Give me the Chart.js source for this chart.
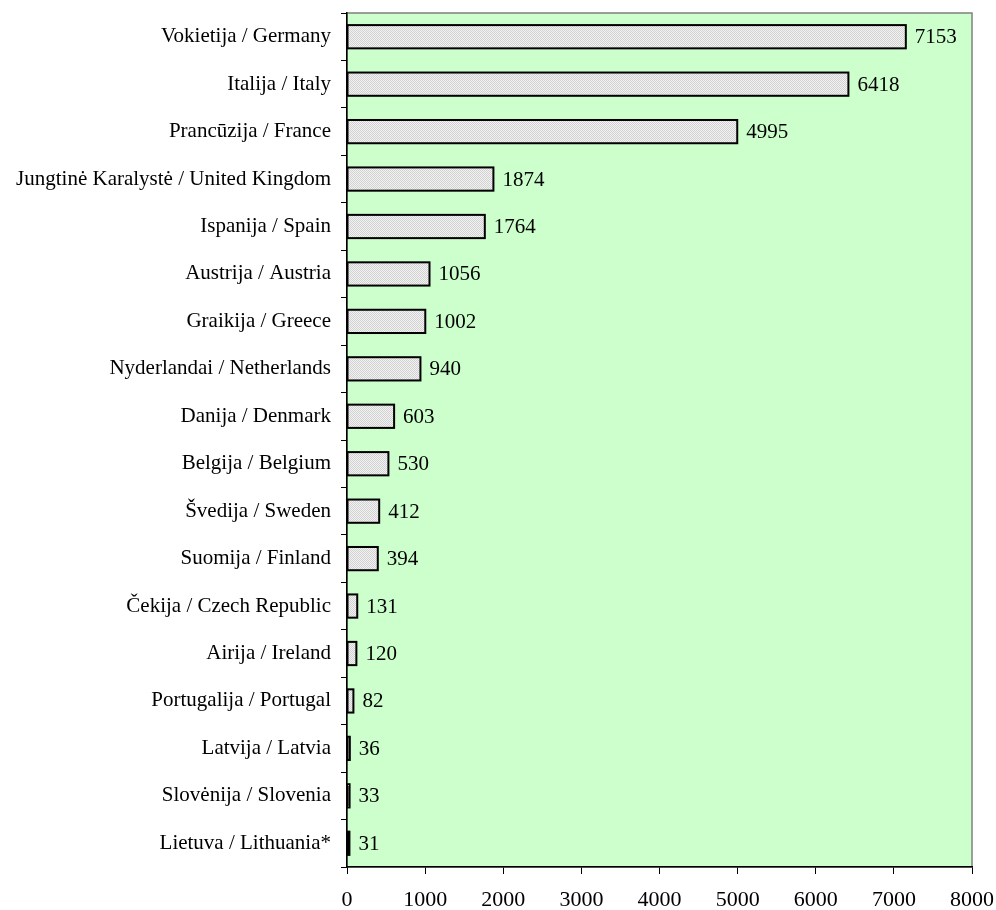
<!DOCTYPE html>
<html>

<head>
    <script src="https://cdn.jsdelivr.net/npm/chart.js@4/dist/chart.umd.min.js"></script>
    <style>
        body { margin: 0; background: #fff; }
    </style>
</head>

<body>
    <div>
        <canvas id="myChart" width="996" height="910"></canvas>
    </div>
</body>

<script>

    // šalys / countries
    const countries = [
        'Vokietija / Germany',
        'Italija / Italy',
        'Prancūzija / France',
        'Jungtinė Karalystė / United Kingdom',
        'Ispanija / Spain',
        'Austrija / Austria',
        'Graikija / Greece',
        'Nyderlandai / Netherlands',
        'Danija / Denmark',
        'Belgija / Belgium',
        'Švedija / Sweden',
        'Suomija / Finland',
        'Čekija / Czech Republic',
        'Airija / Ireland',
        'Portugalija / Portugal',
        'Latvija / Latvia',
        'Slovėnija / Slovenia',
        'Lietuva / Lithuania*'
    ]

    const values = [7153, 6418, 4995, 1874, 1764, 1056, 1002, 940, 603, 530, 412, 394, 131, 120, 82, 36, 33, 31]

    const xMin = 0
    const xMax = 8000
    const xStep = 1000

    const FONT = 'Liberation Serif, Times New Roman, serif'

    // pilkas taškuotas raštas stulpeliams
    const makePattern = () => {
        const c = document.createElement('canvas')
        c.width = 2
        c.height = 2
        const g = c.getContext('2d')
        g.fillStyle = '#f2f2f2'
        g.fillRect(0, 0, 2, 2)
        g.fillStyle = '#d2d2d2'
        g.fillRect(0, 0, 1, 1)
        g.fillRect(1, 1, 1, 1)
        return document.getElementById('myChart').getContext('2d').createPattern(c, 'repeat')
    }

    // žalias fonas ir pilkas rėmelis
    const plotBg = {
        id: 'plotBg',
        beforeDraw(chart) {
            const { ctx, chartArea: a } = chart
            ctx.save()
            ctx.fillStyle = '#ccffcc'
            ctx.fillRect(a.left, a.top, a.right - a.left, a.bottom - a.top)
            ctx.strokeStyle = '#808080'
            ctx.lineWidth = 1.5
            ctx.strokeRect(a.left, a.top, a.right - a.left, a.bottom - a.top)
            ctx.restore()
        }
    }

    // stulpelių kraštinės (kaip Excel - ir labai siauriems stulpeliams)
    // ir reikšmės prie stulpelių
    const barOutline = {
        id: 'barOutline',
        afterDatasetsDraw(chart) {
            const { ctx } = chart
            const meta = chart.getDatasetMeta(0)
            ctx.save()
            ctx.strokeStyle = '#000'
            ctx.lineWidth = 2
            meta.data.forEach((bar) => {
                const x0 = Math.min(bar.base, bar.x)
                const w = Math.abs(bar.x - bar.base)
                ctx.strokeRect(x0, bar.y - bar.height / 2, w, bar.height)
            })
            ctx.fillStyle = '#000'
            ctx.font = '21px ' + FONT
            ctx.textAlign = 'left'
            ctx.textBaseline = 'middle'
            meta.data.forEach((bar, i) => {
                ctx.fillText(String(values[i]), bar.x + 9, bar.y + 1)
            })
            ctx.restore()
        }
    }

    const data = {
        labels: countries,
        datasets: [{
            data: values,
            backgroundColor: makePattern(),
            borderWidth: 0,
            barPercentage: 0.49,
            categoryPercentage: 1
        }]
    }

    const config = {
        type: 'bar',
        data: data,
        options: {
            indexAxis: 'y',
            responsive: false,
            animation: false,
            devicePixelRatio: 1,
            layout: {
                padding: { top: 13, right: 24, left: 0, bottom: 0 }
            },
            plugins: {
                legend: { display: false },
                tooltip: { enabled: false }
            },
            scales: {
                x: {
                    min: xMin,
                    max: xMax,
                    ticks: {
                        stepSize: xStep,
                        color: '#000',
                        font: { family: FONT, size: 22 },
                        padding: 13,
                        maxRotation: 0,
                        callback: (v) => String(v)
                    },
                    grid: {
                        drawOnChartArea: false,
                        drawTicks: true,
                        tickLength: 7,
                        color: '#000'
                    },
                    border: { color: '#000', width: 1.5 },
                    afterFit(scale) {
                        scale.height = 43
                        scale.paddingLeft = 0
                        scale.paddingRight = 0
                    }
                },
                y: {
                    ticks: {
                        color: '#000',
                        font: { family: FONT, size: 21 },
                        padding: 10
                    },
                    grid: {
                        offset: true,
                        drawOnChartArea: false,
                        drawTicks: true,
                        tickLength: 6,
                        color: '#000'
                    },
                    border: { color: '#000', width: 1.5 },
                    afterFit(scale) {
                        scale.width = 347
                        scale.paddingTop = 0
                        scale.paddingBottom = 0
                    }
                }
            }
        },
        plugins: [plotBg, barOutline]
    }

    const myChart = new Chart(document.getElementById('myChart'), config)

</script>

</html>
